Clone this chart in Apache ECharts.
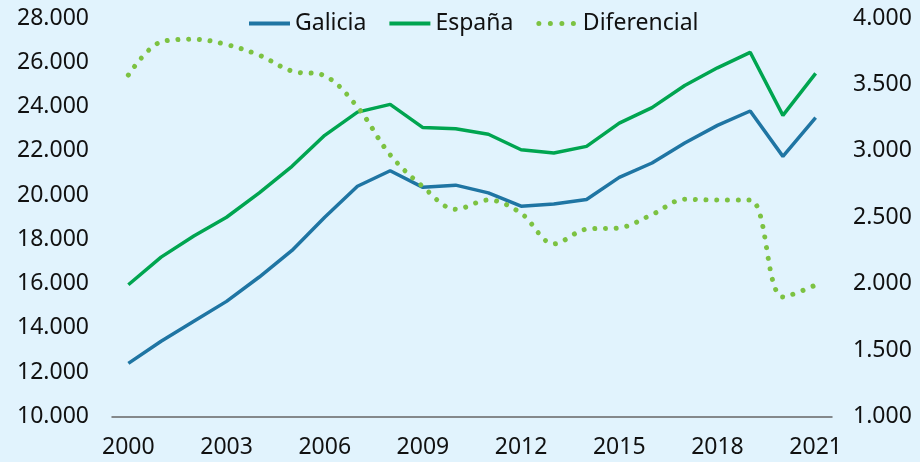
<!DOCTYPE html>
<html>
<head>
<meta charset="utf-8">
<script src="https://cdn.jsdelivr.net/npm/echarts@6/dist/echarts.min.js"></script>
<style>
html,body{margin:0;padding:0;background:#e1f3fd;}
#c{width:920px;height:462px;}
</style>
</head>
<body>
<div id="c"></div>
<script>
const years = ['2000','2001','2002','2003','2004','2005','2006','2007','2008','2009','2010','2011','2012','2013','2014','2015','2016','2017','2018','2019','2020','2021'];
const galicia = [12400,13400,14300,15200,16300,17500,19000,20400,21100,20350,20450,20100,19500,19600,19800,20800,21450,22350,23150,23800,21750,23500];
const espana = [15950,17200,18150,19000,20100,21300,22700,23750,24100,23050,23000,22750,22050,21900,22200,23250,23950,24950,25750,26450,23600,25500];
const diferencial = [3570,3820,3840,3800,3720,3600,3565,3330,2970,2730,2560,2630,2530,2300,2410,2420,2520,2635,2630,2630,1900,1990];

const fmt = v => String(v).replace(/\B(?=(\d{3})+(?!\d))/g, '.');
const FONT = 'Noto Sans';
const FS = 23;
const BLUE = '#1f75a3', GREEN = '#00a550', LIGHT = '#7cc242';
const chart = echarts.init(document.getElementById('c'), null, {renderer:'canvas'});
chart.setOption({
  backgroundColor: '#e1f3fd',
  animation: false,
  textStyle: {fontFamily: FONT},
  grid: {left: 112, right: 88, top: 18, bottom: 45.5, containLabel: false},
  legend: {
    top: 12, left: 247, padding: 0, itemWidth: 41, itemHeight: 14, itemGap: 21,
    textStyle: {fontFamily: FONT, fontSize: FS, color: '#111'},
    data: [
      {name: 'Galicia', itemStyle: {opacity: 0}, lineStyle: {color: BLUE, width: 4}},
      {name: 'España', itemStyle: {opacity: 0}, lineStyle: {color: GREEN, width: 4}},
      {name: 'Diferencial', itemStyle: {opacity: 0}, lineStyle: {color: LIGHT, width: 5, type: [0.01, 11.5], cap: 'round', dashOffset: -2}}
    ]
  },
  xAxis: {
    type: 'category', data: years, boundaryGap: true,
    axisLine: {lineStyle: {color: '#666', width: 1.5}},
    axisTick: {show: false},
    axisLabel: {interval: 2, margin: 19, fontSize: FS, color: '#111', fontFamily: FONT},
    splitLine: {show: false}
  },
  yAxis: [
    {type: 'value', min: 10000, max: 28000, interval: 2000,
     axisLabel: {formatter: fmt, margin: 23, fontSize: FS, color: '#111', fontFamily: FONT},
     axisLine: {show: false}, axisTick: {show: false}, splitLine: {show: false}},
    {type: 'value', min: 1000, max: 4000, interval: 500, position: 'right',
     axisLabel: {formatter: fmt, margin: 21, fontSize: FS, color: '#111', fontFamily: FONT},
     axisLine: {show: false}, axisTick: {show: false}, splitLine: {show: false}}
  ],
  series: [
    {name: 'Galicia', type: 'line', data: galicia, yAxisIndex: 0, symbol: 'none',
     lineStyle: {color: BLUE, width: 3.5}, itemStyle: {color: BLUE}},
    {name: 'España', type: 'line', data: espana, yAxisIndex: 0, symbol: 'none',
     lineStyle: {color: GREEN, width: 3.5}, itemStyle: {color: GREEN}},
    {name: 'Diferencial', type: 'line', data: diferencial, yAxisIndex: 1, symbol: 'none', smooth: 0.35,
     lineStyle: {color: LIGHT, width: 5, type: [0.01, 10.7], cap: 'round'}, itemStyle: {color: LIGHT}}
  ]
});
</script>
</body>
</html>
